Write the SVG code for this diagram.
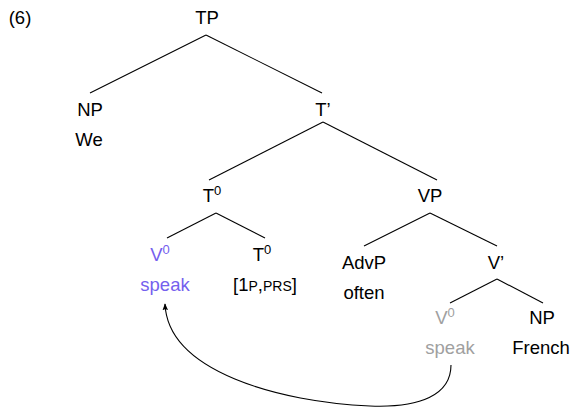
<svg xmlns="http://www.w3.org/2000/svg" width="577" height="408" viewBox="0 0 577 408">
<style>
text{font-family:"Liberation Sans",Arial,sans-serif;font-size:18.5px;fill:#000;text-anchor:middle}
.sup{font-size:13px}
.sc{font-size:14px}
.moved text{fill:#7560ee}
.trace text{fill:#a0a0a0}
.edge{stroke:#000;stroke-width:1.1;fill:none}
</style>
<defs>
<marker id="ah" viewBox="0 0 10 10" refX="9" refY="5" markerWidth="7" markerHeight="7" orient="auto-start-reverse" markerUnits="userSpaceOnUse">
<path d="M0,1 L10,5 L0,9 L2,5 Z" fill="#000"/>
</marker>
</defs>
<text x="20" y="24">(6)</text>
<g id="TP"><text x="207" y="24">TP</text></g>
<g id="NP1"><text x="90" y="116">NP</text><text x="89" y="146">We</text></g>
<g id="Tbar"><text x="323" y="116">T’</text></g>
<g id="T0"><text x="212" y="202">T<tspan class="sup" dy="-7">0</tspan></text></g>
<g id="VP"><text x="430" y="202">VP</text></g>
<g id="V0" class="moved"><text x="160" y="261">V<tspan class="sup" dy="-7">0</tspan></text><text x="165" y="291">speak</text></g>
<g id="T0b"><text x="262" y="261">T<tspan class="sup" dy="-7">0</tspan></text><text x="265" y="291">[1<tspan class="sc">P</tspan>,<tspan class="sc">PRS</tspan>]</text></g>
<g id="AdvP"><text x="364" y="269">AdvP</text><text x="364" y="299">often</text></g>
<g id="Vbar"><text x="496" y="269">V’</text></g>
<g id="V0t" class="trace"><text x="445" y="324">V<tspan class="sup" dy="-7">0</tspan></text><text x="450" y="354">speak</text></g>
<g id="NP2"><text x="542" y="324">NP</text><text x="541" y="354">French</text></g>
<g id="connectors">
<line class="edge" x1="206" y1="35" x2="90" y2="93"/>
<line class="edge" x1="206" y1="35" x2="322" y2="93"/>
<line class="edge" x1="323" y1="122" x2="209" y2="180"/>
<line class="edge" x1="323" y1="122" x2="437" y2="180"/>
<line class="edge" x1="216" y1="213" x2="167" y2="238"/>
<line class="edge" x1="216" y1="213" x2="265" y2="238"/>
<line class="edge" x1="430" y1="213" x2="364" y2="246"/>
<line class="edge" x1="430" y1="213" x2="497" y2="246"/>
<line class="edge" x1="497" y1="279" x2="450" y2="303"/>
<line class="edge" x1="497" y1="279" x2="543" y2="303"/>
<path class="edge" d="M451,365 C451,395 420,408 370,406 C280,402 168,372 165,304" marker-end="url(#ah)"/>
</g>
</svg>
